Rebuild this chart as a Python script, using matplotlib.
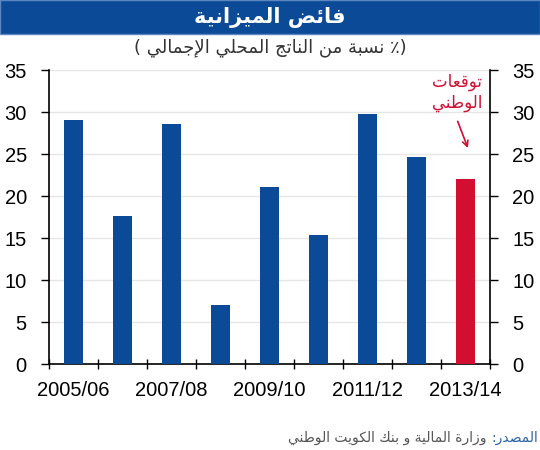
import matplotlib
matplotlib.use("Agg")
import matplotlib.pyplot as plt
from matplotlib.patches import Rectangle

# data
years = ["2005/06", "2006/07", "2007/08", "2008/09", "2009/10",
         "2010/11", "2011/12", "2012/13", "2013/14"]
surplus = [29.1, 17.6, 28.6, 7.0, 21.1, 15.4, 29.8, 24.6, 22.0]
forecast = [False] * 8 + [True]

title = "فائض الميزانية"
subtitle = "نسبة من الناتج المحلي الإجمالي"
note_1 = "توقعات"
note_2 = "الوطني"
source_head = "المصدر:"
source_body = "وزارة المالية و بنك الكويت الوطني"

# --- minimal arabic shaping (matplotlib has no RTL / joining support) ---
FORMS = {
    'ا': (0xFE8D, 0), 'أ': (0xFE83, 0), 'إ': (0xFE87, 0), 'آ': (0xFE81, 0),
    'ئ': (0xFE89, 1), 'ب': (0xFE8F, 1), 'ة': (0xFE93, 0), 'ت': (0xFE95, 1),
    'ج': (0xFE9D, 1), 'ح': (0xFEA1, 1), 'د': (0xFEA9, 0), 'ر': (0xFEAD, 0),
    'ز': (0xFEAF, 0), 'س': (0xFEB1, 1), 'ص': (0xFEB9, 1), 'ض': (0xFEBD, 1),
    'ط': (0xFEC1, 1), 'ع': (0xFEC9, 1), 'ف': (0xFED1, 1), 'ق': (0xFED5, 1),
    'ك': (0xFED9, 1), 'ل': (0xFEDD, 1), 'م': (0xFEE1, 1), 'ن': (0xFEE5, 1),
    'ه': (0xFEE9, 1), 'و': (0xFEED, 0), 'ي': (0xFEF1, 1),
}
LAM_ALEF = {'ا': 0xFEFB, 'إ': 0xFEF9, 'أ': 0xFEF7, 'آ': 0xFEF5}


def shape(s):
    toks = []
    i = 0
    while i < len(s):
        if s[i] == 'ل' and i + 1 < len(s) and s[i + 1] in LAM_ALEF:
            toks.append(('LA', LAM_ALEF[s[i + 1]]))
            i += 2
        else:
            toks.append(s[i])
            i += 1

    def is_ar(t):
        return isinstance(t, tuple) or t in FORMS

    def is_dual(t):
        return (not isinstance(t, tuple)) and t in FORMS and FORMS[t][1] == 1

    out = []
    for k, t in enumerate(toks):
        prev_j = k > 0 and is_dual(toks[k - 1])
        if isinstance(t, tuple):
            out.append(chr(t[1] + (1 if prev_j else 0)))
            continue
        if t not in FORMS:
            out.append(t)
            continue
        base, dual = FORMS[t]
        next_j = dual and k + 1 < len(toks) and is_ar(toks[k + 1])
        if dual:
            off = 3 if (prev_j and next_j) else 1 if prev_j else 2 if next_j else 0
        else:
            off = 1 if prev_j else 0
        out.append(chr(base + off))
    return "".join(out)[::-1]


plt.rcParams['font.family'] = ['Liberation Sans', 'DejaVu Sans']

blue = "#0b4a96"
red = "#d20f30"

fig = plt.figure(figsize=(5.4, 4.5), dpi=100)

# title banner
fig.patches.append(Rectangle((0, 1 - 34 / 450), 1, 34 / 450, transform=fig.transFigure,
                             facecolor=blue, edgecolor="#5b86c0", linewidth=1))
fig.text(0.5, 1 - 17 / 450, shape(title), color="white", fontsize=15,
         fontweight="bold", ha="center", va="center", family=['DejaVu Sans'])
# visual order: paren, phrase (rtl), percent sign next to first word
fig.text(0.5, 1 - 48 / 450, "( " + shape(subtitle) + " ٪)", color="#333333",
         fontsize=13, ha="center", va="center", family=['DejaVu Sans'])

ax = fig.add_axes([49 / 540, 1 - 364 / 450, 441 / 540, 294 / 450])
x = list(range(len(years)))
colors = [red if f else blue for f in forecast]
ax.bar(x, surplus, width=0.4, color=colors, zorder=3)

ax.set_xlim(-0.5, len(years) - 0.5)
ax.set_ylim(0, 35)
ax.set_yticks(range(0, 36, 5))
ax.grid(axis="y", color="#e6e6e6", linewidth=1, zorder=0)

ax.set_xticks(x[::2])
ax.set_xticklabels(years[::2])
ax.set_xticks([i - 0.5 for i in range(len(years) + 1)], minor=True)
ax.tick_params(axis="x", which="major", length=0, pad=12, labelsize=14.5)
ax.tick_params(axis="x", which="minor", length=7, direction="inout", width=1)
ax.tick_params(axis="y", length=6, width=1, pad=10, labelsize=14.5,
               right=True, labelright=True)
ax.spines["top"].set_visible(False)
for s in ["left", "right", "bottom"]:
    ax.spines[s].set_linewidth(1.2)

ax.annotate("", xy=(8.07, 25.4), xytext=(7.82, 29.2),
            arrowprops=dict(arrowstyle="->", color=red, lw=1.2))
ax.text(7.83, 33.6, shape(note_1), color=red, fontsize=12, ha="center", va="center",
        family=['DejaVu Sans'])
ax.text(7.83, 31.1, shape(note_2), color=red, fontsize=12, ha="center", va="center",
        family=['DejaVu Sans'])

fig.text(538 / 540, 1 - 438 / 450, shape(source_head), color="#2a62a8", fontsize=10,
         ha="right", va="center", family=['DejaVu Sans'])
fig.text(486 / 540, 1 - 438 / 450, shape(source_body), color="#555555", fontsize=10,
         ha="right", va="center", family=['DejaVu Sans'])

fig.savefig("out.png", dpi=100)
